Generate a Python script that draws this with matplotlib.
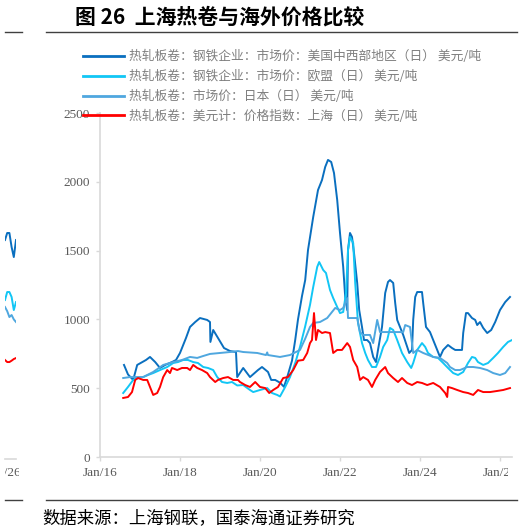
import matplotlib
matplotlib.use("Agg")
import matplotlib.pyplot as plt
from matplotlib.lines import Line2D
from matplotlib.transforms import Bbox

plt.rcParams['font.family'] = ['Noto Sans CJK SC', 'DejaVu Sans']

# 美国中西部 (year, 美元/吨)
us = [(2016.60, 669), (2016.70, 600), (2016.83, 560), (2016.93, 669), (2017.15, 705), (2017.25, 727),
      (2017.38, 690), (2017.50, 647), (2017.63, 669), (2017.80, 690), (2017.90, 705), (2018.00, 756),
      (2018.15, 865), (2018.25, 945), (2018.38, 981), (2018.50, 1010), (2018.68, 996), (2018.75, 981),
      (2018.76, 836), (2018.83, 923), (2018.95, 865), (2019.10, 792), (2019.25, 770), (2019.40, 763),
      (2019.43, 581), (2019.58, 647), (2019.75, 581), (2019.95, 632), (2020.05, 654), (2020.20, 618),
      (2020.28, 560), (2020.38, 560), (2020.50, 540), (2020.60, 510), (2020.70, 600), (2020.80, 700),
      (2020.88, 850), (2020.95, 1000), (2021.05, 1170), (2021.13, 1286), (2021.20, 1504), (2021.33, 1744),
      (2021.45, 1940), (2021.55, 2013), (2021.63, 2108), (2021.70, 2159), (2021.78, 2144), (2021.85, 2064),
      (2021.93, 1868), (2022.00, 1628), (2022.08, 1381), (2022.13, 1163), (2022.18, 1068), (2022.20, 1504),
      (2022.25, 1628), (2022.30, 1599), (2022.35, 1483), (2022.43, 1265), (2022.48, 1068), (2022.55, 945),
      (2022.60, 850), (2022.68, 850), (2022.75, 828), (2022.83, 727), (2022.90, 690), (2022.95, 778),
      (2023.05, 945), (2023.13, 1192), (2023.20, 1272), (2023.25, 1286), (2023.33, 1265), (2023.38, 1119),
      (2023.43, 996), (2023.50, 945), (2023.58, 887), (2023.68, 800), (2023.73, 756), (2023.80, 778),
      (2023.83, 996), (2023.88, 1163), (2023.93, 1199), (2024.05, 1199), (2024.08, 1119), (2024.15, 945),
      (2024.25, 908), (2024.33, 850), (2024.43, 778), (2024.50, 727), (2024.58, 778), (2024.70, 814),
      (2024.80, 792), (2024.88, 778), (2025.05, 778), (2025.08, 901), (2025.15, 1046), (2025.20, 1046),
      (2025.30, 1010), (2025.38, 996), (2025.43, 959), (2025.50, 981), (2025.58, 938), (2025.68, 901),
      (2025.78, 923), (2025.88, 981), (2026.00, 1068), (2026.13, 1126), (2026.25, 1163)]

# 欧盟
eu = [(2016.58, 465), (2016.70, 509), (2016.83, 560), (2016.95, 574), (2017.08, 581), (2017.20, 596),
      (2017.33, 610), (2017.50, 632), (2017.68, 654), (2017.83, 683), (2017.95, 690), (2018.08, 705),
      (2018.20, 705), (2018.33, 690), (2018.45, 683), (2018.58, 654), (2018.70, 647), (2018.83, 632),
      (2018.93, 581), (2019.05, 545), (2019.18, 538), (2019.30, 545), (2019.43, 520), (2019.58, 523),
      (2019.75, 487), (2019.83, 472), (2020.00, 487), (2020.18, 501), (2020.30, 465), (2020.43, 451),
      (2020.50, 440), (2020.63, 509), (2020.75, 581), (2020.88, 683), (2021.00, 800), (2021.13, 950),
      (2021.25, 1105), (2021.33, 1235), (2021.43, 1381), (2021.48, 1417), (2021.58, 1359), (2021.65, 1337),
      (2021.75, 1214), (2021.83, 1155), (2021.93, 1090), (2022.00, 1046), (2022.08, 1054), (2022.15, 1192),
      (2022.20, 1504), (2022.25, 1599), (2022.33, 1555), (2022.38, 1265), (2022.45, 974), (2022.55, 828),
      (2022.63, 756), (2022.70, 705), (2022.80, 654), (2022.90, 654), (2023.00, 727), (2023.08, 800),
      (2023.18, 850), (2023.25, 938), (2023.33, 923), (2023.43, 850), (2023.55, 756), (2023.68, 690),
      (2023.78, 647), (2023.83, 683), (2023.93, 778), (2024.05, 828), (2024.13, 800), (2024.20, 756),
      (2024.33, 727), (2024.45, 720), (2024.58, 683), (2024.70, 647), (2024.83, 610), (2024.95, 596),
      (2025.08, 618), (2025.20, 683), (2025.30, 727), (2025.38, 720), (2025.45, 690), (2025.58, 669),
      (2025.70, 683), (2025.83, 720), (2025.95, 756), (2026.08, 800), (2026.20, 836), (2026.30, 850)]

# 日本
jp = [(2016.58, 574), (2016.75, 581), (2017.08, 581), (2017.33, 618), (2017.58, 669), (2017.83, 690),
      (2018.05, 705), (2018.25, 727), (2018.43, 720), (2018.58, 734), (2018.75, 749), (2019.00, 756),
      (2019.25, 763), (2019.45, 770), (2019.58, 763), (2019.93, 756), (2020.15, 741), (2020.18, 760),
      (2020.20, 741), (2020.50, 727), (2020.75, 741), (2021.00, 778), (2021.13, 860), (2021.25, 945),
      (2021.33, 974), (2021.50, 981), (2021.68, 1010), (2021.88, 1083), (2022.00, 1068), (2022.08, 1083),
      (2022.18, 1155), (2022.20, 1010), (2022.43, 1010), (2022.50, 908), (2022.58, 887), (2022.75, 887),
      (2022.83, 828), (2022.93, 996), (2023.00, 908), (2023.58, 908), (2023.63, 959), (2023.75, 945),
      (2023.83, 756), (2023.93, 778), (2024.08, 756), (2024.33, 727), (2024.50, 720), (2024.68, 683),
      (2024.75, 654), (2024.88, 632), (2025.00, 632), (2025.18, 654), (2025.33, 654), (2025.50, 647),
      (2025.68, 632), (2025.83, 610), (2026.00, 596), (2026.13, 610), (2026.25, 654)]

# 上海
sh = [(2016.58, 429), (2016.70, 436), (2016.80, 472), (2016.88, 560), (2016.95, 574), (2017.08, 560),
      (2017.18, 560), (2017.25, 509), (2017.33, 451), (2017.43, 465), (2017.50, 509), (2017.58, 581),
      (2017.68, 632), (2017.75, 610), (2017.80, 647), (2017.93, 632), (2018.05, 647), (2018.18, 647),
      (2018.25, 632), (2018.33, 669), (2018.43, 647), (2018.55, 632), (2018.68, 610), (2018.75, 581),
      (2018.88, 545), (2018.95, 560), (2019.08, 574), (2019.20, 581), (2019.33, 560), (2019.45, 560),
      (2019.50, 545), (2019.63, 523), (2019.75, 509), (2019.88, 545), (2020.00, 509), (2020.13, 501),
      (2020.23, 465), (2020.33, 487), (2020.45, 509), (2020.58, 574), (2020.70, 581), (2020.83, 632),
      (2020.95, 700), (2021.08, 705), (2021.18, 756), (2021.25, 828), (2021.30, 850), (2021.35, 1046),
      (2021.40, 850), (2021.45, 923), (2021.55, 901), (2021.63, 908), (2021.75, 901), (2021.83, 756),
      (2021.93, 778), (2022.05, 778), (2022.18, 828), (2022.25, 800), (2022.33, 705), (2022.43, 654),
      (2022.50, 560), (2022.58, 581), (2022.70, 560), (2022.80, 509), (2022.88, 560), (2023.00, 618),
      (2023.13, 654), (2023.20, 610), (2023.33, 574), (2023.45, 545), (2023.55, 574), (2023.68, 538),
      (2023.80, 523), (2023.93, 545), (2024.05, 538), (2024.18, 523), (2024.33, 538), (2024.50, 509),
      (2024.63, 465), (2024.68, 436), (2024.70, 509), (2024.80, 501), (2024.93, 487), (2025.08, 472),
      (2025.20, 465), (2025.33, 451), (2025.45, 487), (2025.58, 472), (2025.75, 472), (2025.93, 480),
      (2026.08, 487), (2026.25, 501)]

labels = ['热轧板卷：钢铁企业：市场价：美国中西部地区（日） 美元/吨',
          '热轧板卷：钢铁企业：市场价：欧盟（日） 美元/吨',
          '热轧板卷：市场价：日本（日） 美元/吨',
          '热轧板卷：美元计：价格指数：上海（日） 美元/吨']
colors = ['#0a6fbf', '#12c6f5', '#4fa7df', '#ff0000']

x_ticks = [2016, 2018, 2020, 2022, 2024, 2026]
x_ticklabels = ['Jan/16', 'Jan/18', 'Jan/20', 'Jan/22', 'Jan/24', 'Jan/26']
y_ticks = [0, 500, 1000, 1500, 2000, 2500]

# 左侧残留的另一张图的右端
frag_x = [0, 1, 2, 3, 4, 5]
frag_us = [1577, 1628, 1628, 1526, 1453, 1577]
frag_eu = [1141, 1199, 1199, 1163, 1068, 1126]
frag_jp = [1090, 1060, 1017, 1032, 1000, 981]
frag_sh = [705, 690, 690, 700, 712, 719]

W, H = 528, 531
fig = plt.figure(figsize=(W / 100, H / 100), dpi=100)

ax = fig.add_axes([100 / W, 1 - 457 / H, 412 / W, 344 / H])
for series, c, lab in zip([us, eu, jp, sh], colors, labels):
    xs = [p[0] for p in series]
    ys = [p[1] for p in series]
    ax.plot(xs, ys, color=c, lw=1.4, label=lab)

ax.set_xlim(2016, 2026.3)
ax.set_ylim(0, 2500)
ax.set_xticks(x_ticks)
ax.set_xticklabels(x_ticklabels)
ax.set_yticks(y_ticks)
for s in ['top', 'right']:
    ax.spines[s].set_visible(False)
for s in ['left', 'bottom']:
    ax.spines[s].set_color('#d9d9d9')
    ax.spines[s].set_linewidth(1.2)
ax.tick_params(axis='both', direction='out', length=3, width=1, color='#d9d9d9',
               labelcolor='#595959', labelsize=9.5, pad=4)
for t in ax.get_xticklabels() + ax.get_yticklabels():
    t.set_family('Liberation Serif')
# 最右侧标签被截断
clip = Bbox([[0, 0], [508, H]])
for t in ax.get_xticklabels():
    t.set_clip_box(clip)
    t.set_clip_on(True)

leg = fig.legend(loc='upper left', bbox_to_anchor=(83 / W, 1 - 50 / H), frameon=False,
                 fontsize=9.2, handlelength=3.2, handletextpad=0.4, labelspacing=0.52,
                 borderpad=0, borderaxespad=0, labelcolor='#7f7f7f')
for line in leg.get_lines():
    line.set_linewidth(2)

# 左侧残片
fx = fig.add_axes([5 / W, 1 - 457 / H, 11 / W, 344 / H])
for vals, c in zip([frag_us, frag_eu, frag_jp, frag_sh], colors):
    fx.plot(frag_x, vals, color=c, lw=1.4)
fx.set_xlim(0, 5)
fx.set_ylim(0, 2500)
fx.axis('off')
fig.add_artist(Line2D([5 / W, 16 / W], [1 - 459 / H] * 2, color='#d9d9d9', lw=1.2))

# 残片的刻度标签，只露出右半部分
cx = fig.add_axes([5 / W, 0, 14 / W, 1])
cx.axis('off')
cx.text(-13 / W, 1 - 473 / H, 'Jan/26', fontsize=9.5, color='#595959',
        family='Liberation Serif', va='center', ha='left', transform=fig.transFigure,
        clip_on=True)

# 标题与分隔线
fig.text(75 / W, 1 - 17 / H, '图 26  上海热卷与海外价格比较', fontsize=15, weight='bold',
         va='center', ha='left', color='black')
for y in [32, 500]:
    fig.add_artist(Line2D([5 / W, 22 / W], [1 - y / H] * 2, color='#404040', lw=1))
    fig.add_artist(Line2D([46 / W, 517 / W], [1 - y / H] * 2, color='#404040', lw=1))
fig.text(42 / W, 1 - 518 / H, '数据来源：上海钢联，国泰海通证券研究', fontsize=12.5,
         va='center', ha='left', color='black')

fig.savefig('out.png', dpi=100)
